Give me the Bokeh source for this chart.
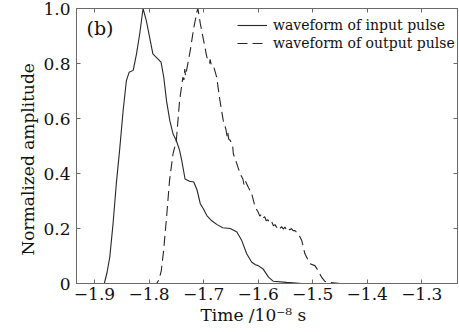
from bokeh.plotting import figure
from bokeh.models import (FixedTicker, LinearAxis, Legend, LegendItem, Title,
                          Range1d, Label)
from bokeh.embed import file_html
from bokeh.resources import INLINE

# ---------------- data ----------------
x_ticks = [-1.9, -1.8, -1.7, -1.6, -1.5, -1.4, -1.3]
x_tick_labels = ["\u22121.9", "\u22121.8", "\u22121.7", "\u22121.6", "\u22121.5", "\u22121.4", "\u22121.3"]
y_ticks = [0, 0.2, 0.4, 0.6, 0.8, 1.0]
y_tick_labels = ["0", "0.2", "0.4", "0.6", "0.8", "1.0"]

input_t = [-1.935, -1.882, -1.877, -1.872, -1.866, -1.860, -1.854, -1.8475, -1.8415,
           -1.8366, -1.829, -1.823, -1.817, -1.811, -1.805, -1.799, -1.793, -1.784,
           -1.778, -1.773, -1.768, -1.762, -1.756, -1.750, -1.744, -1.740, -1.734,
           -1.726, -1.718, -1.712, -1.706, -1.700, -1.694, -1.685, -1.676, -1.665,
           -1.651, -1.639, -1.630, -1.621, -1.612, -1.605, -1.600, -1.591, -1.581,
           -1.572, -1.548, -1.520, -1.235]
input_a = [0, 0, 0.04, 0.096, 0.217, 0.363, 0.484, 0.629, 0.738,
           0.768, 0.775, 0.835, 0.909, 1.0, 0.956, 0.896, 0.835, 0.817,
           0.805, 0.75, 0.665, 0.593, 0.544, 0.52, 0.484, 0.447, 0.38,
           0.372, 0.369, 0.34, 0.29, 0.27, 0.247, 0.228, 0.215, 0.203,
           0.2, 0.187, 0.156, 0.108, 0.078, 0.068, 0.065, 0.053, 0.023,
           0.008, 0.004, 0, 0]

output_t = [-1.935, -1.786, -1.782, -1.7775, -1.7733, -1.7684, -1.7624, -1.756, -1.750,
            -1.744, -1.738, -1.736, -1.7345, -1.733, -1.7245, -1.718, -1.712, -1.7104,
            -1.706, -1.700, -1.694, -1.690, -1.689, -1.688, -1.686, -1.682, -1.676,
            -1.670, -1.664, -1.659, -1.657, -1.6555, -1.654, -1.651, -1.6465, -1.6455,
            -1.639, -1.633, -1.628, -1.626, -1.624, -1.618, -1.6117, -1.6055,
            -1.600, -1.597, -1.594, -1.591, -1.588, -1.585, -1.582, -1.578, -1.575,
            -1.572, -1.569, -1.566, -1.563, -1.560, -1.557, -1.554, -1.551, -1.548,
            -1.545, -1.542, -1.539, -1.536, -1.533, -1.526, -1.520, -1.5143, -1.505,
            -1.496, -1.490, -1.4837, -1.4777, -1.470, -1.450, -1.235]
output_a = [0, 0, 0.013, 0.047, 0.12, 0.229, 0.375, 0.472, 0.52,
            0.665, 0.75, 0.74, 0.78, 0.755, 0.847, 0.93, 0.99, 1.0,
            0.945, 0.884, 0.823, 0.81, 0.80, 0.815, 0.795, 0.793, 0.75,
            0.665, 0.593, 0.56, 0.535, 0.55, 0.525, 0.52, 0.496, 0.472,
            0.435, 0.399, 0.38, 0.36, 0.375, 0.35, 0.326, 0.278,
            0.26, 0.245, 0.252, 0.238, 0.243, 0.228, 0.232, 0.218, 0.224,
            0.21, 0.214, 0.204, 0.21, 0.2, 0.207, 0.198, 0.205, 0.196,
            0.203, 0.195, 0.2, 0.192, 0.193, 0.18, 0.156, 0.108, 0.072,
            0.065, 0.047, 0.023, 0.008, 0.004, 0, 0]

series_names = ["waveform of input pulse", "waveform of output pulse"]
x_label = "Time /10\u207b\u2078 s"
y_label = "Normalized amplitude"
panel_tag = "(b)"

# ---------------- figure ----------------
FONT = "DejaVu Serif"
INK = "#262626"
TXT = "#111111"
FRAME = "#6a6a6a"

p = figure(width=459, height=332, output_backend="svg", toolbar_location=None,
           x_range=Range1d(-1.933, -1.2345), y_range=Range1d(0, 1.0),
           min_border_left=76, min_border_right=2, min_border_top=8, min_border_bottom=49,
           background_fill_color="white", border_fill_color="white")
p.grid.visible = False
p.outline_line_color = FRAME
p.outline_line_width = 1

r_in = p.line(input_t, input_a, line_color=INK, line_width=1.1)
r_out = p.line(output_t, output_a, line_color=INK, line_width=1.1, line_dash="10 5")

def style_axis(ax, show_labels=True):
    ax.axis_line_color = FRAME
    ax.major_tick_line_color = FRAME
    ax.major_tick_in = 4
    ax.major_tick_out = 0
    ax.minor_tick_line_color = None
    ax.major_label_text_font = FONT
    ax.major_label_text_font_size = "17px"
    ax.major_label_text_color = TXT
    if not show_labels:
        ax.major_label_text_font_size = "1px"
        ax.major_label_text_color = None
        ax.major_label_standoff = 0

xa = p.xaxis[0]
xa.ticker = FixedTicker(ticks=x_ticks)
xa.major_label_overrides = dict(zip(x_ticks, x_tick_labels))
style_axis(xa)
xa.major_label_standoff = 4

ya = p.yaxis[0]
ya.ticker = FixedTicker(ticks=y_ticks)
ya.major_label_overrides = dict(zip(y_ticks, y_tick_labels))
style_axis(ya)
ya.major_label_standoff = 6

top = LinearAxis(ticker=FixedTicker(ticks=x_ticks))
style_axis(top, show_labels=False)
p.add_layout(top, "above")
right = LinearAxis(ticker=FixedTicker(ticks=y_ticks))
style_axis(right, show_labels=False)
p.add_layout(right, "right")

yt = Title(text=y_label, align="left", offset=28, text_font=FONT,
           text_font_size="17px", text_font_style="normal", text_color=TXT,
           standoff=6)
p.add_layout(yt, "left")

xt = Title(text=x_label, align="left", offset=124, text_font=FONT,
           text_font_size="17px", text_font_style="normal", text_color=TXT,
           standoff=0)
p.add_layout(xt, "below")

lbl = Label(x=10, y=245, x_units="screen", y_units="screen", text=panel_tag,
            text_font=FONT, text_font_size="19px", text_color=TXT)
p.add_layout(lbl)

legend = Legend(items=[LegendItem(label=series_names[0], renderers=[r_in]),
                       LegendItem(label=series_names[1], renderers=[r_out])],
                location=(161, 231), padding=0, margin=0, spacing=0,
                label_text_font=FONT, label_text_font_size="14px",
                label_text_color=TXT, label_height=18, glyph_height=18,
                glyph_width=30, label_standoff=6,
                border_line_color=None, background_fill_alpha=0)
p.add_layout(legend)

open("out.html", "w").write(file_html(p, INLINE))
